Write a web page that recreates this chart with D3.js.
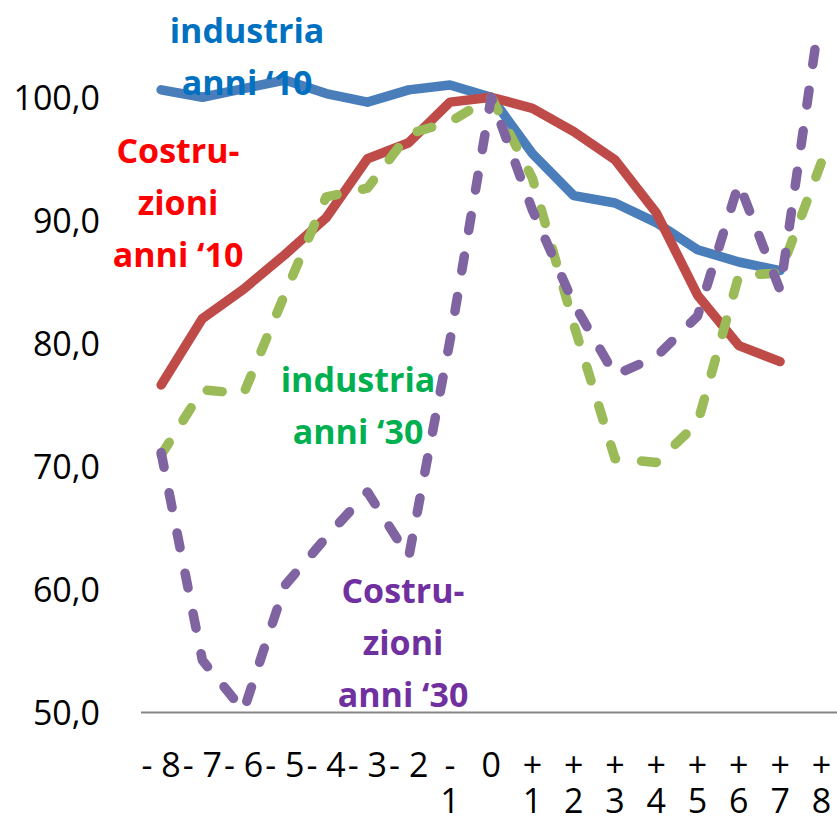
<!DOCTYPE html>
<html>
<head>
<meta charset="utf-8">
<script src="https://cdn.jsdelivr.net/npm/d3@7"></script>
<style>
  html, body { margin: 0; padding: 0; background: #fff; overflow: hidden; }
  svg { display: block; }
</style>
</head>
<body>
<svg id="chart" width="837" height="818"></svg>
<script>
// Months around the turning point (0) and index values (0 = 100)
const categories = ["-8","-7","-6","-5","-4","-3","-2","-1","0","+1","+2","+3","+4","+5","+6","+7","+8"];
const tickLines = [["- 8"],["- 7"],["- 6"],["- 5"],["- 4"],["- 3"],["- 2"],["-","1"],["0"],
                   ["+","1"],["+","2"],["+","3"],["+","4"],["+","5"],["+","6"],["+","7"],["+","8"]];
const yTicks = [50, 60, 70, 80, 90, 100];

const industria10    = [100.6, 100.0, 100.7, 101.4, 100.3, 99.6, 100.6, 101.0, 100.0, 95.4, 92.0, 91.4, 89.8, 87.6, 86.6, 85.9, null];
const costruzioni10  = [76.6, 82.0, 84.4, 87.2, 90.2, 95.0, 96.3, 99.6, 100.0, 99.1, 97.2, 94.9, 90.6, 83.9, 79.8, 78.5, null];
const industria30    = [70.9, 76.2, 75.9, 84.0, 91.9, 92.6, 97.0, 98.0, 100.0, 93.4, 81.5, 70.6, 70.3, 73.5, 85.5, 85.7, 94.7];
const costruzioni30  = [71.1, 54.2, 50.1, 60.3, 64.2, 67.9, 62.6, 80.2, 100.0, 90.8, 83.2, 77.4, 78.9, 82.2, 93.0, 84.3, 107.5];

const seriesList = [
  { name: "industria10",   values: industria10,   color: "#4A7EBB", dashed: false },
  { name: "costruzioni10", values: costruzioni10, color: "#BE4B48", dashed: false },
  { name: "industria30",   values: industria30,   color: "#9BBB59", dashed: true  },
  { name: "costruzioni30", values: costruzioni30, color: "#8064A2", dashed: true  }
];

const labels = [
  { lines: ["industria", "anni \u201810"],            color: "#0070C0", x: 247, y: 43 },
  { lines: ["Costru-", "zioni", "anni \u201810"],     color: "#FF0000", x: 178, y: 163 },
  { lines: ["industria", "anni \u201830"],            color: "#00B050", x: 358, y: 392 },
  { lines: ["Costru-", "zioni", "anni \u201830"],     color: "#7030A0", x: 403, y: 603 }
];

const svg = d3.select("#chart");
const FONT = "'Open Sans', 'DejaVu Sans', sans-serif";

const x = d3.scaleBand().domain(categories).range([140.5, 842]).padding(0);
const y = d3.scaleLinear().domain([50, 105]).range([712, 35.75]);
const cx = c => x(c) + x.bandwidth() / 2;

// plot-area clip (values above the axis maximum are cut off)
svg.append("defs").append("clipPath").attr("id", "plotClip")
  .append("rect").attr("x", 0).attr("y", y(105)).attr("width", 837).attr("height", 818 - y(105));

// y axis labels
const yAxis = d3.axisLeft(y).tickValues(yTicks).tickSize(0).tickPadding(40)
  .tickFormat(d => d3.format(".1f")(d).replace(".", ","));
const gy = svg.append("g").attr("transform", "translate(140,0)").call(yAxis);
gy.select(".domain").remove();
gy.selectAll(".tick text").attr("font-family", FONT).attr("font-size", 34).attr("fill", "#000")
  .attr("dy", "0.36em");

// x axis, with wrapped category labels (one text per line)
const xAxis = d3.axisBottom(x).tickSize(0).tickSizeOuter(0).tickPadding(0).tickFormat("");
const gx = svg.append("g").attr("transform", `translate(0,${y(50)})`).call(xAxis);
gx.select(".domain").attr("stroke", "#868686").attr("stroke-width", 2);
gx.selectAll(".tick text").remove();
gx.selectAll(".tick").each(function(d, i) {
  const tick = d3.select(this);
  tickLines[i].forEach((ln, j) => {
    tick.append("text")
      .attr("font-family", FONT).attr("font-size", 34).attr("fill", "#000")
      .attr("text-anchor", "middle")
      .attr("x", 0).attr("y", 65 + j * 36)
      .text(ln);
  });
});

// lines
const line = d3.line()
  .defined(d => d.v !== null)
  .x(d => cx(d.c))
  .y(d => y(d.v));

const gLines = svg.append("g").attr("clip-path", "url(#plotClip)");
seriesList.forEach(s => {
  gLines.append("path")
    .datum(categories.map((c, i) => ({ c, v: s.values[i] })))
    .attr("d", line)
    .attr("fill", "none")
    .attr("stroke", s.color)
    .attr("stroke-width", 9.5)
    .attr("stroke-linecap", "round")
    .attr("stroke-linejoin", "round")
    .attr("stroke-dasharray", s.dashed ? "15,26" : null);
});

// series labels
labels.forEach(l => {
  const t = svg.append("text")
    .attr("font-family", FONT).attr("font-weight", "bold").attr("font-size", 34)
    .attr("fill", l.color).attr("text-anchor", "middle");
  l.lines.forEach((ln, j) => {
    t.append("tspan").attr("x", l.x).attr("y", l.y + j * 52).text(ln);
  });
});
</script>
</body>
</html>
